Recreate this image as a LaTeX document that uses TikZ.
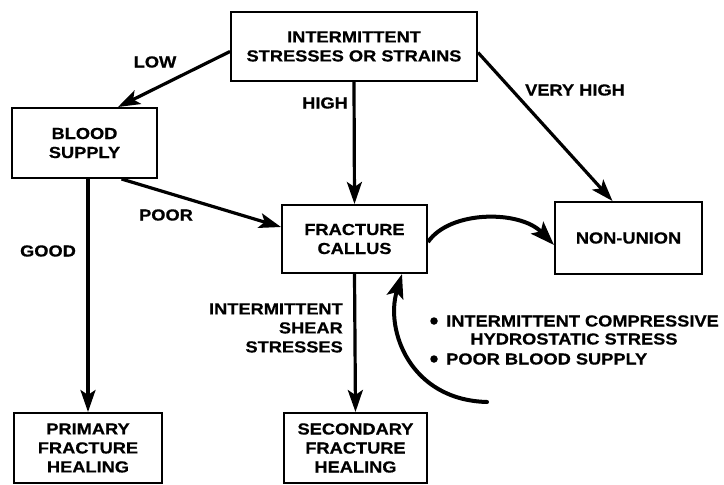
\documentclass[tikz,border=0pt]{standalone}
\usepackage{fontspec}
\setmainfont{Liberation Sans}[FakeStretch=1.14, BoldFeatures={FakeBold=0.6}]
\usetikzlibrary{arrows.meta}
\begin{document}
\begin{tikzpicture}[x=1pt,y=-1pt,
  txt/.style={font=\bfseries\fontsize{16}{19}\selectfont, align=center, inner sep=0pt},
  box/.style={txt, draw, line width=2pt},
  arr/.style={line width=3.2pt, -{Stealth[length=22pt,width=15pt,inset=5pt]}},
  carr/.style={line width=4pt, -{Stealth[length=24pt,width=17pt,inset=5pt]}},
  bul/.style={circle, fill, inner sep=0pt, minimum size=7.5pt}]
\useasboundingbox (0,0) rectangle (724,485);
\fill[white] (0,0) rectangle (724,485);

\node[box, minimum width=246pt, minimum height=69pt] (top) at (354,46.5) {INTERMITTENT\\STRESSES OR STRAINS};
\node[box, minimum width=145pt, minimum height=70pt] (blood) at (84.5,143) {BLOOD\\SUPPLY};
\node[box, minimum width=145pt, minimum height=68pt] (callus) at (354.5,239) {FRACTURE\\CALLUS};
\node[box, minimum width=147pt, minimum height=72pt] (non) at (628.5,238) {NON-UNION};
\node[box, minimum width=148pt, minimum height=70pt] (prim) at (88,448) {PRIMARY\\FRACTURE\\HEALING};
\node[box, minimum width=143pt, minimum height=70pt] (sec) at (355.5,448) {SECONDARY\\FRACTURE\\HEALING};

\draw[arr] ([yshift=-5pt]top.west) -- ([xshift=33.5pt]blood.north);
\draw[arr] (top.south) -- (callus.north);
\draw[arr] ([yshift=-6pt]top.east) -- ([xshift=-16pt]non.north);
\draw[arr] ([xshift=37pt]blood.south) -- ([yshift=12pt]callus.west);
\draw[arr] (prim.north |- blood.south) -- (prim.north);
\draw[arr] (callus.south) -- (sec.north);

\draw[carr] ([yshift=-3pt]callus.east) .. controls (450,210) and (520,210) .. ([yshift=-7pt]non.west);
\coordinate (fb) at (487,402);
\draw[carr, line cap=round] (fb) .. controls (410,400) and (385,330) .. ([xshift=47.5pt]callus.south);

\node[txt] (low) at (155,62) {LOW};
\node[txt] (high) at (325,103) {HIGH};
\node[txt] (vhigh) at (575,90) {VERY HIGH};
\node[txt] (poor) at (166,215) {POOR};
\node[txt] (good) at (48,251) {GOOD};
\node[txt, anchor=east, align=right] (shear) at (343,328) {INTERMITTENT\\SHEAR\\STRESSES};

\node[bul] (b1) at (434,321) {};
\node[bul] (b2) at (434,359) {};
\node[txt, anchor=west] (l1) at (446,321) {INTERMITTENT COMPRESSIVE};
\node[txt] (l2) at (574,339) {HYDROSTATIC STRESS};
\node[txt, anchor=west] (l3) at (446,359) {POOR BLOOD SUPPLY};
\end{tikzpicture}
\end{document}
